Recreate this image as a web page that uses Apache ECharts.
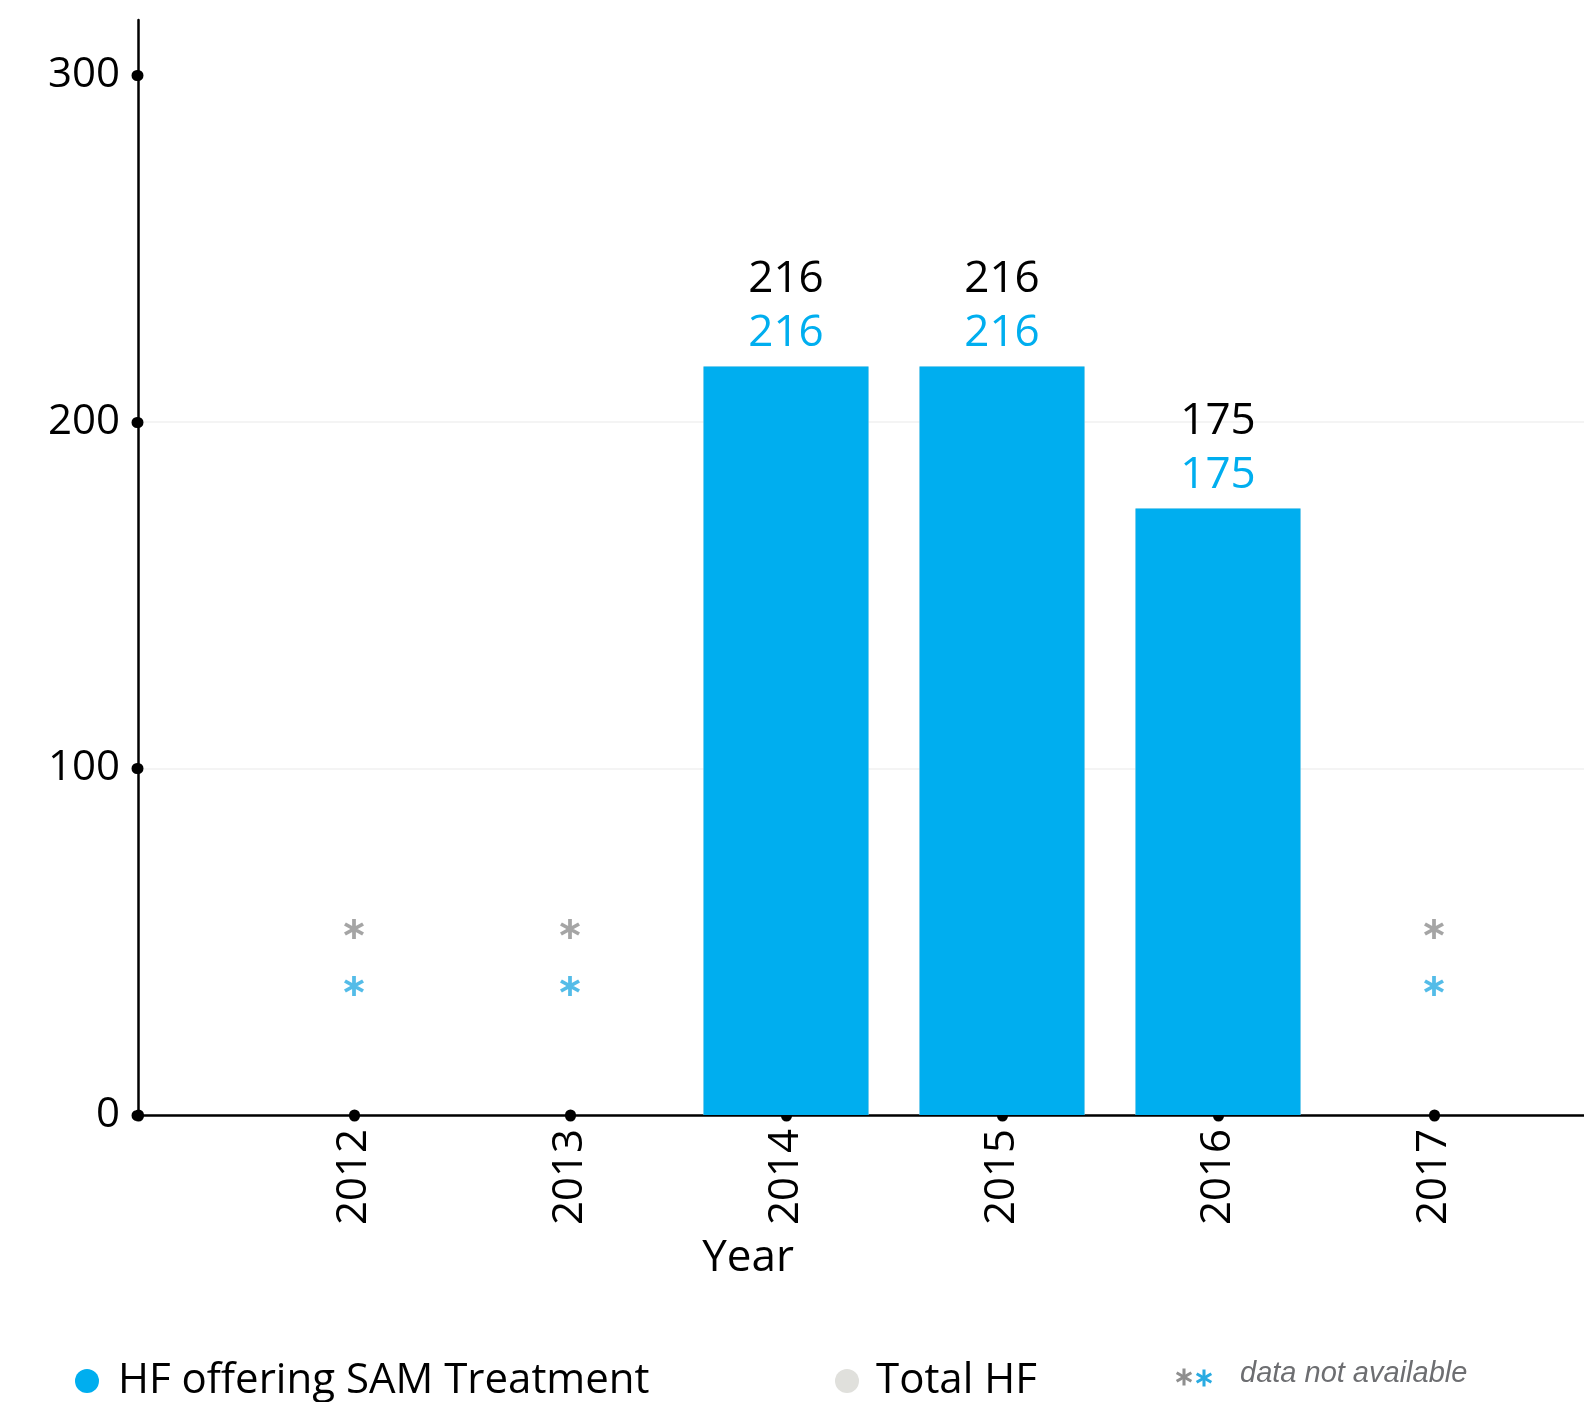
<!DOCTYPE html>
<html>
<head>
<meta charset="utf-8">
<style>
  html, body { margin: 0; padding: 0; background: #ffffff; overflow: hidden; width: 1584px; height: 1402px; }
  #chart { width: 1650px; height: 1402px; }
</style>
<script src="https://cdn.jsdelivr.net/npm/echarts@6/dist/echarts.min.js"></script>
</head>
<body>
<div id="chart"></div>
<script>
// ---- data ----
const categories = ['', '2012', '2013', '2014', '2015', '2016', '2017', ''];
const samValues = [null, null, null, 216, 216, 175, null, null];
const totalValues = [null, null, null, 216, 216, 175, null, null];
const yTickValues = [0, 100, 200, 300];
const seriesNames = ['HF offering SAM Treatment', 'Total HF'];
const naText = 'data not available';
const xAxisTitle = 'Year';

// ---- style ----
const BLUE = '#00AEEF';
const LIGHT = '#e0e0dc';
const NA_GRAY = '#8f8f8f';
const NA_BLUE = '#29abe2';
const FONT = '"Open Sans", "Noto Sans", sans-serif';
// six-armed asterisk glyph (style only)
const ASTERISK = 'path://M41 0L59 0L59 100L41 100Z' +
  'M88.8 82.8L2.2 32.8L11.2 17.2L97.8 67.2Z' +
  'M97.8 32.8L11.2 82.8L2.2 67.2L88.8 17.2Z';

function asteriskGraphic(cx, cy, size, color) {
  const w = size * 0.18;
  return {
    type: 'group', x: cx, y: cy,
    children: [0, Math.PI / 3, -Math.PI / 3].map(r => ({
      type: 'rect', rotation: r,
      shape: { x: -w / 2, y: -size / 2, width: w, height: size },
      style: { fill: color }
    }))
  };
}

const naCats = categories.filter((c, i) => c !== '' && samValues[i] == null && totalValues[i] == null);

const chart = echarts.init(document.getElementById('chart'), null, { renderer: 'canvas' });

chart.setOption({
  animation: false,
  backgroundColor: '#ffffff',
  textStyle: { fontFamily: FONT },
  grid: { left: 138, right: 0, top: 20, bottom: 287, containLabel: false },
  xAxis: {
    type: 'category',
    data: categories,
    boundaryGap: false,
    axisLine: { show: true, lineStyle: { color: '#000', width: 2.5 } },
    axisTick: { show: true, alignWithLabel: true, length: 1, lineStyle: { color: '#000', width: 11, cap: 'round' } },
    axisLabel: { rotate: 90, margin: 14, color: '#000', fontSize: 42, fontFamily: FONT },
    splitLine: { show: false }
  },
  yAxis: {
    type: 'value',
    min: 0,
    max: 316,
    interval: 100,
    axisLine: { show: true, lineStyle: { color: '#000', width: 2.5 } },
    axisTick: { show: true, length: 1, customValues: yTickValues, lineStyle: { color: '#000', width: 11, cap: 'round' } },
    axisLabel: { margin: 18, color: '#000', fontSize: 42, fontFamily: FONT, customValues: yTickValues },
    splitLine: { show: true, showMaxLine: false, lineStyle: { color: '#f0f0f0', width: 1.5 } }
  },
  legend: [
    {
      data: [seriesNames[0]], left: 70, top: 1354, icon: 'circle', itemWidth: 24, itemHeight: 24,
      textStyle: { fontSize: 42, lineHeight: 44, color: '#000', fontFamily: FONT, padding: [0, 0, 0, 14] },
      selectedMode: false
    },
    {
      data: [seriesNames[1]], left: 830, top: 1354, icon: 'circle', itemWidth: 24, itemHeight: 24,
      textStyle: { fontSize: 42, lineHeight: 44, color: '#000', fontFamily: FONT, padding: [0, 0, 0, 12] },
      selectedMode: false
    }
  ],
  series: [
    {
      name: seriesNames[1],
      type: 'bar',
      data: totalValues,
      barWidth: 165,
      barGap: '-100%',
      itemStyle: { color: LIGHT },
      label: { show: true, position: 'top', distance: 65, color: '#000', fontSize: 44, fontFamily: FONT }
    },
    {
      name: seriesNames[0],
      type: 'bar',
      data: samValues,
      barWidth: 165,
      barGap: '-100%',
      itemStyle: { color: BLUE },
      label: { show: true, position: 'top', distance: 11, color: BLUE, fontSize: 44, fontFamily: FONT }
    },
    {
      name: 'na-total',
      type: 'scatter',
      data: naCats.map(c => [c, 0]),
      symbol: ASTERISK,
      symbolSize: 20,
      symbolOffset: [0, -186],
      silent: true,
      itemStyle: { color: NA_GRAY },
      z: 3
    },
    {
      name: 'na-sam',
      type: 'scatter',
      data: naCats.map(c => [c, 0]),
      symbol: ASTERISK,
      symbolSize: 20,
      symbolOffset: [0, -129],
      silent: true,
      itemStyle: { color: NA_BLUE },
      z: 3
    }
  ],
  graphic: [
    {
      type: 'text', x: 748, y: 1258,
      style: { text: xAxisTitle, fill: '#000', font: '44px ' + FONT, textAlign: 'center', textVerticalAlign: 'middle', letterSpacing: 3 }
    },
    asteriskGraphic(1184, 1377, 17, NA_GRAY),
    asteriskGraphic(1204, 1378, 17, NA_BLUE),
    {
      type: 'text', x: 1240, y: 1374,
      style: { text: naText, fill: '#6d6e71', font: 'italic 29px "Liberation Sans", Arial, sans-serif', textVerticalAlign: 'middle' }
    }
  ]
});
</script>
</body>
</html>
